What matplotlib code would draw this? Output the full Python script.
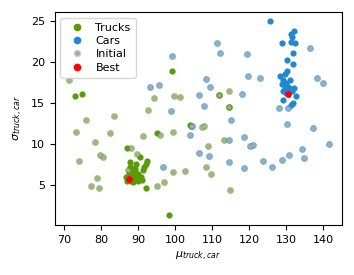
import matplotlib
matplotlib.use("Agg")
import matplotlib.pyplot as plt
from matplotlib.lines import Line2D

# Initial population (trucks)
init_truck_x = [71.2, 73.0, 73.3, 73.9, 75.8, 77.2, 78.8, 79.5, 78.2, 79.7, 80.6, 82.5, 83.5,
                88.0, 89.6, 87.3, 91.4, 92.7, 94.3, 96.0, 99.4, 99.6, 101.3, 95.0, 97.0, 99.4,
                102.6, 104.2, 107.3, 107.7, 108.9, 113.2, 108.2, 109.6, 114.8, 111.8, 114.5, 114.5]
init_truck_y = [17.8, 19.6, 11.4, 7.9, 12.9, 4.9, 5.8, 4.6, 10.2, 8.7, 8.45, 11.3, 13.4,
                9.5, 8.8, 6.8, 11.0, 14.1, 15.6, 11.1, 11.4, 15.8, 15.7, 4.9, 5.4, 6.6,
                6.7, 12.2, 12.1, 12.2, 9.75, 10.45, 7.15, 6.35, 4.35, 16.0, 16.5, 14.5]
# Initial population (cars)
init_car_x = [99.2, 93.2, 95.6, 98.9, 106.4, 111.3, 112.0, 119.4, 136.3, 119.6, 122.8, 108.3,
              109.4, 107.8, 118.0, 115.0, 128.0, 130.4, 138.2, 139.8, 130.1, 137.3, 104.6, 103.9,
              106.4, 109.1, 114.5, 118.5, 120.1, 121.0, 114.5, 118.5, 123.7, 126.1, 128.8, 130.7,
              134.2, 134.7, 141.4, 96.7]
init_car_y = [20.7, 16.9, 17.2, 14.0, 16.0, 22.3, 21.1, 21.0, 21.7, 18.3, 18.1, 17.9,
              17.0, 14.6, 16.1, 12.9, 14.4, 14.4, 18.1, 17.4, 12.4, 12.0, 12.2, 11.1,
              8.9, 8.5, 10.45, 10.85, 9.75, 9.9, 7.8, 7.0, 7.9, 7.15, 8.0, 8.7,
              9.35, 8.25, 10.0, 7.2]
# Evolved trucks
truck_x = [73.0, 74.8, 99.2, 95.0, 87.1, 90.5, 92.3, 92.0, 91.6, 91.4, 87.8, 89.1, 92.1, 98.3,
           87.5, 88.5, 89.0, 89.5, 90.0, 88.0, 87.0, 88.5, 90.0, 89.0, 88.0, 87.8, 89.5,
           111.8, 114.5, 104.0, 90.8, 91.0, 88.8, 86.8]
truck_y = [15.9, 16.1, 18.9, 11.3, 9.5, 8.45, 7.9, 7.5, 7.2, 6.8, 7.8, 7.0, 4.6, 1.3,
           6.5, 6.2, 5.8, 6.0, 6.3, 5.5, 5.5, 5.3, 5.5, 6.8, 6.6, 7.2, 7.5,
           16.0, 14.5, 12.3, 6.0, 5.6, 6.4, 6.0]
# Evolved cars
car_x = [125.5, 132.0, 131.3, 131.4, 128.8, 131.3, 132.2, 131.7, 130.1, 131.7, 130.1, 129.5,
         128.2, 129.0, 130.0, 131.0, 130.5, 129.5, 131.5, 129.0, 130.0, 132.0, 129.0, 132.5,
         131.7, 131.2, 130.8, 128.7]
car_y = [25.0, 23.8, 23.4, 23.0, 22.3, 22.4, 22.3, 21.1, 20.2, 19.7, 18.9, 18.5,
         18.3, 17.8, 17.5, 17.8, 17.0, 16.8, 16.5, 16.5, 16.2, 16.8, 15.4, 15.8,
         15.0, 14.7, 16.8, 17.3]
# Best solutions
best_x = [87.6, 130.4]
best_y = [5.7, 16.1]

truck_c = "#589a08"
car_c = "#2188cf"
gray_c = "#a9a9a9"

fig = plt.figure(figsize=(3.54, 2.75), dpi=100)
ax = fig.add_axes([0.155, 0.182, 0.811, 0.774])

ax.scatter(truck_x, truck_y, s=20, color=truck_c, linewidths=0, zorder=2)
ax.scatter(car_x, car_y, s=20, color=car_c, linewidths=0, zorder=2)
ax.scatter(init_truck_x, init_truck_y, s=24, color=truck_c, alpha=0.6, linewidths=0, zorder=3)
ax.scatter(init_car_x, init_car_y, s=24, color=car_c, alpha=0.65, linewidths=0, zorder=3)
ax.scatter(init_truck_x + init_car_x, init_truck_y + init_car_y, s=8, color=gray_c,
           linewidths=0, zorder=4)
ax.scatter(best_x, best_y, s=24, color="red", linewidths=0, zorder=5)

ax.set_xlim(67.5, 145)
ax.set_ylim(0.1, 26.1)
ax.set_xticks([70, 80, 90, 100, 110, 120, 130, 140])
ax.set_yticks([5, 10, 15, 20, 25])
ax.tick_params(labelsize=8)
ax.set_xlabel(r"$\mu_{truck,car}$", fontsize=8)
ax.set_ylabel(r"$\sigma_{truck,car}$", fontsize=8)

handles = [
    Line2D([], [], linestyle="none", marker="o", markersize=4.5, color=truck_c),
    Line2D([], [], linestyle="none", marker="o", markersize=4.5, color=car_c),
    Line2D([], [], linestyle="none", marker="o", markersize=4.5, markerfacecolor=gray_c,
           markeredgecolor="#cfcfcf", markeredgewidth=1.0),
    Line2D([], [], linestyle="none", marker="o", markersize=4.5, color="red"),
]
ax.legend(handles, ["Trucks", "Cars", "Initial", "Best"], loc="upper left", fontsize=8,
          handletextpad=0.7, borderpad=0.45, labelspacing=0.3)

fig.savefig("out.png", dpi=100)
